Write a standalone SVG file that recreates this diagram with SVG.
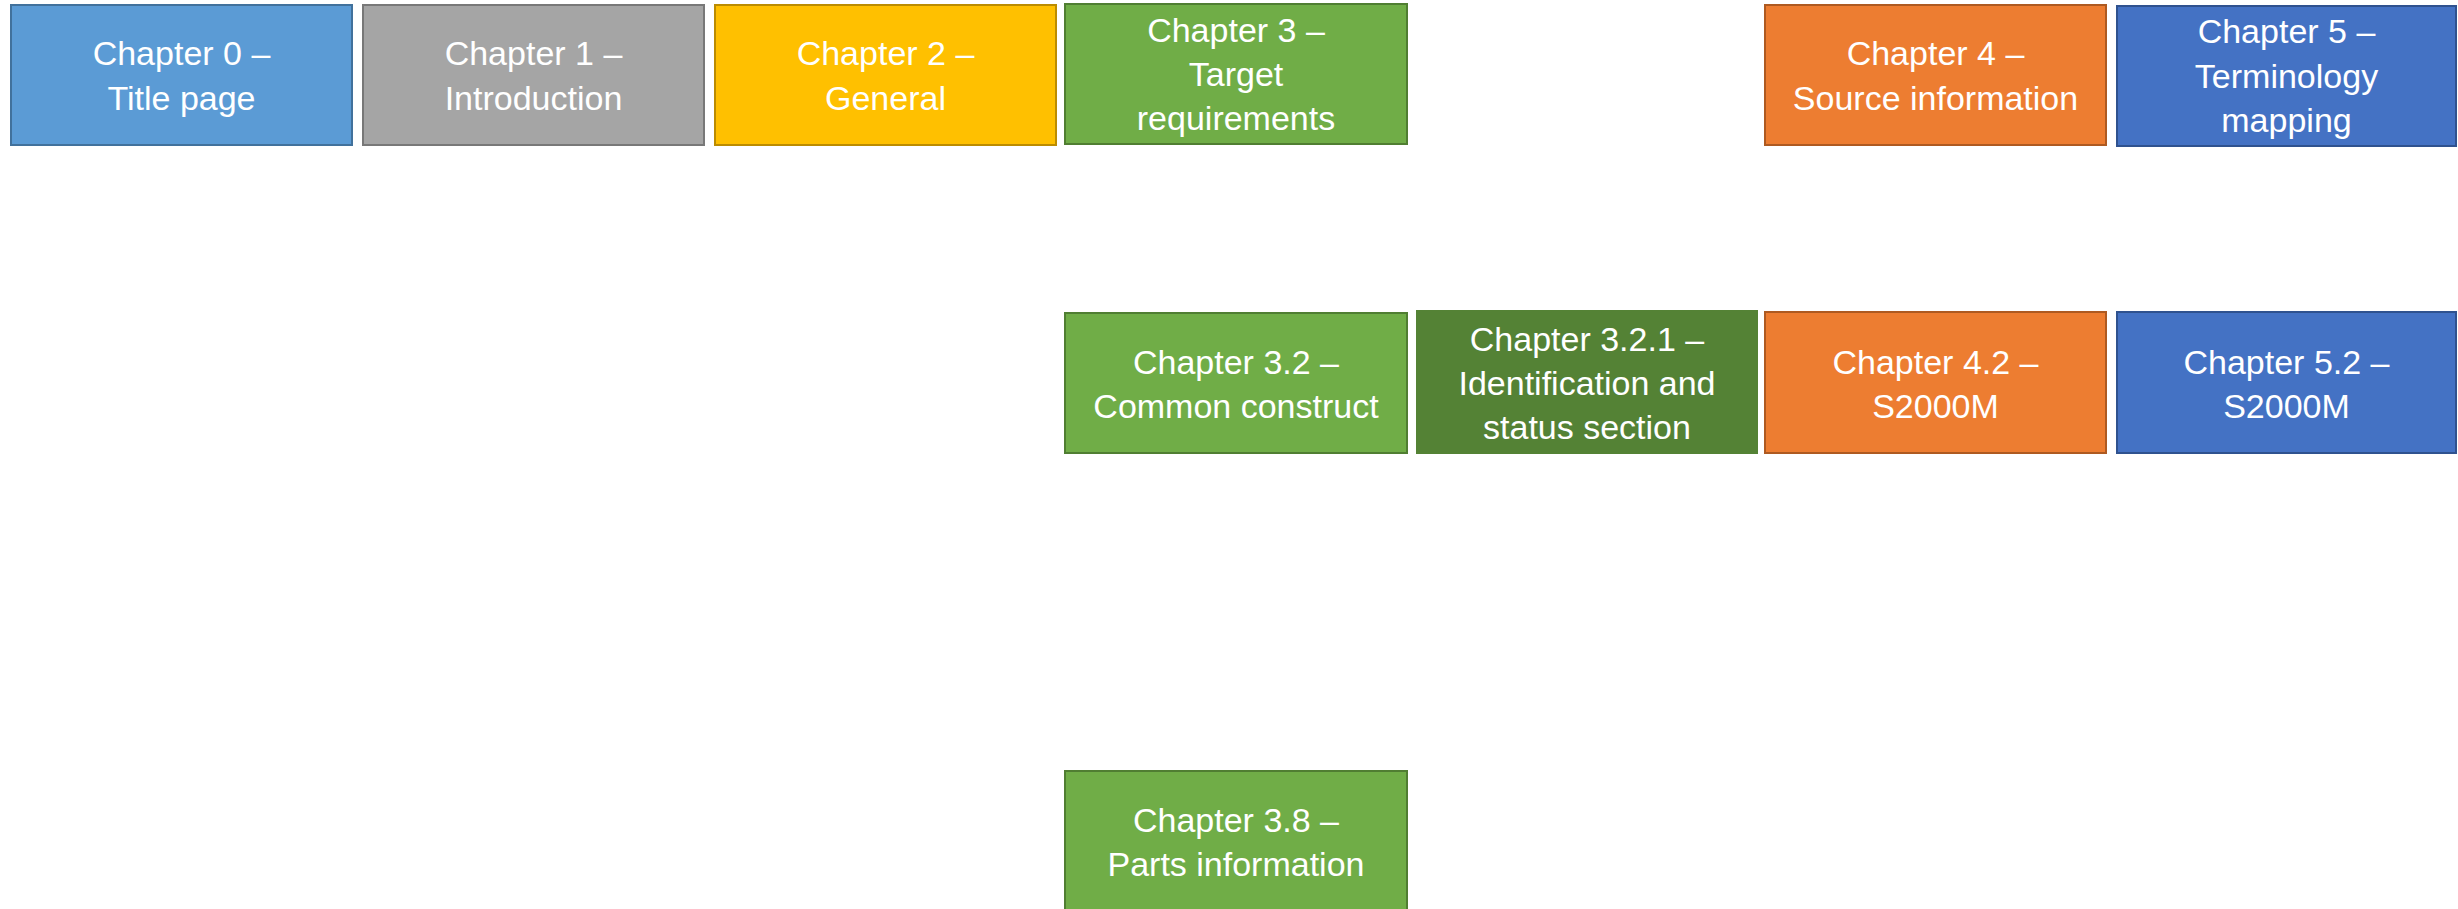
<svg xmlns="http://www.w3.org/2000/svg" width="2458" height="909" viewBox="0 0 2458 909">
<style>
rect{stroke-width:2}
text{font-family:"Liberation Sans",Arial,sans-serif;font-size:34px;fill:#ffffff;text-anchor:middle}
.blue{fill:#5B9BD5;stroke:#41719C}
.grey{fill:#A5A5A5;stroke:#787878}
.gold{fill:#FFC000;stroke:#BC8C00}
.green{fill:#70AD47;stroke:#507E32}
.dgreen{fill:#548235;stroke:#548235}
.orange{fill:#ED7D31;stroke:#AE5A21}
.dblue{fill:#4472C4;stroke:#2F528F}
</style>
<rect width="2458" height="909" fill="#ffffff" style="stroke:none"/>
<g id="ch0"><rect class="blue" x="11" y="5" width="341" height="140"/><text x="181.5" y="65">Chapter 0 –</text><text x="181.5" y="110">Title page</text></g>
<g id="ch1"><rect class="grey" x="363" y="5" width="341" height="140"/><text x="533.5" y="65">Chapter 1 –</text><text x="533.5" y="110">Introduction</text></g>
<g id="ch2"><rect class="gold" x="715" y="5" width="341" height="140"/><text x="885.5" y="65">Chapter 2 –</text><text x="885.5" y="110">General</text></g>
<g id="ch3"><rect class="green" x="1065" y="4" width="342" height="140"/><text x="1236" y="42">Chapter 3 –</text><text x="1236" y="86">Target</text><text x="1236" y="130">requirements</text></g>
<g id="ch4"><rect class="orange" x="1765" y="5" width="341" height="140"/><text x="1935.5" y="65">Chapter 4 –</text><text x="1935.5" y="110">Source information</text></g>
<g id="ch5"><rect class="dblue" x="2117" y="6" width="339" height="140"/><text x="2286.5" y="43">Chapter 5 –</text><text x="2286.5" y="88">Terminology</text><text x="2286.5" y="132">mapping</text></g>
<g id="ch3_2"><rect class="green" x="1065" y="313" width="342" height="140"/><text x="1236" y="374">Chapter 3.2 –</text><text x="1236" y="418">Common construct</text></g>
<g id="ch3_2_1"><rect class="dgreen" x="1417" y="311" width="340" height="142"/><text x="1587" y="351">Chapter 3.2.1 –</text><text x="1587" y="395">Identification and</text><text x="1587" y="439">status section</text></g>
<g id="ch4_2"><rect class="orange" x="1765" y="312" width="341" height="141"/><text x="1935.5" y="374">Chapter 4.2 –</text><text x="1935.5" y="418">S2000M</text></g>
<g id="ch5_2"><rect class="dblue" x="2117" y="312" width="339" height="141"/><text x="2286.5" y="374">Chapter 5.2 –</text><text x="2286.5" y="418">S2000M</text></g>
<g id="ch3_8"><rect class="green" x="1065" y="771" width="342" height="150"/><text x="1236" y="832">Chapter 3.8 –</text><text x="1236" y="876">Parts information</text></g>
<g id="connectors"></g>
</svg>
